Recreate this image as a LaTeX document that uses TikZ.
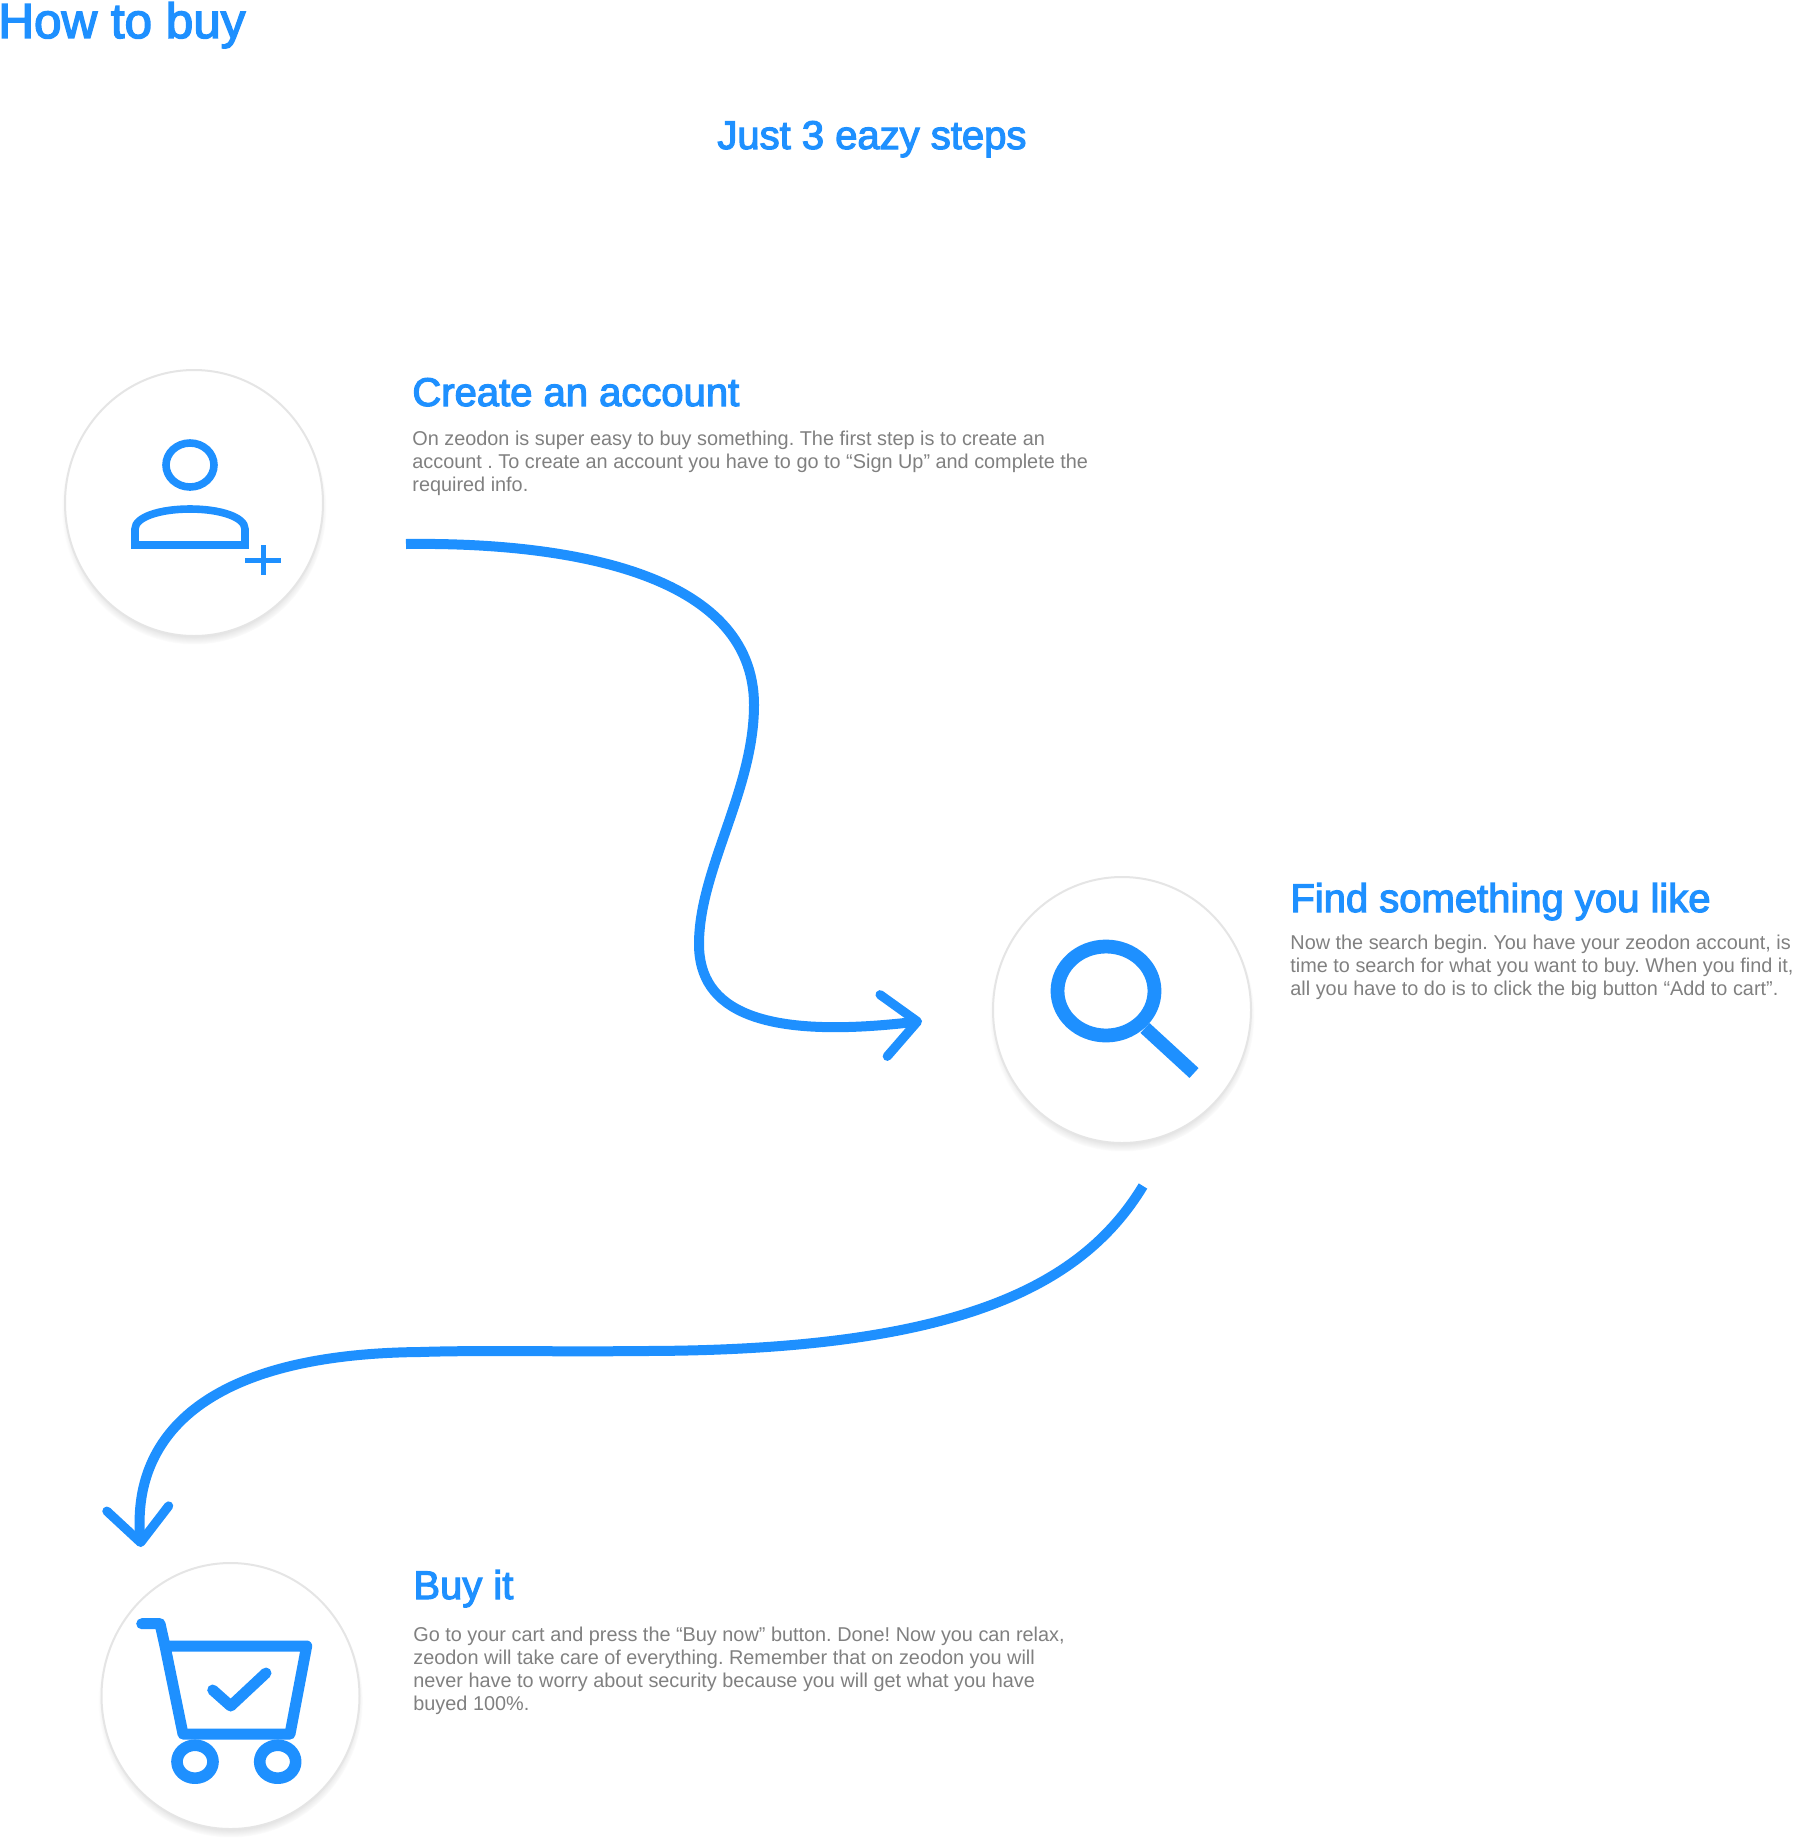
\documentclass[tikz,border=0pt]{standalone}
\usepackage{fontspec}
\setmainfont[FakeStretch=0.993]{Liberation Sans}
\newfontfamily\headfont[FakeBold=3]{Liberation Sans}
\usetikzlibrary{arrows.meta,shadows,shapes.geometric}
\definecolor{buycol}{RGB}{30,144,255}
\definecolor{bodycol}{RGB}{128,128,128}
\tikzset{
  % white disc behind an icon
  stepdisc/.style={ellipse, draw=black!10, line width=1pt, fill=white, minimum width=129pt, minimum height=133pt, inner sep=0pt,
                   circular drop shadow={shadow xshift=0pt, shadow yshift=-2.5pt, shadow scale=1.025, opacity=0.5}},
  % big page heading
  pagehead/.style={font=\headfont\fontsize{24.7pt}{30pt}\selectfont, text=buycol, inner sep=0pt, anchor=base west},
  % step heading
  stephead/.style={font=\headfont\fontsize{20pt}{24pt}\selectfont, text=buycol, inner sep=0pt, anchor=base west},
  % step description
  stepbody/.style={font=\fontsize{10pt}{11.5pt}\selectfont\frenchspacing, text=bodycol, inner sep=0pt, align=left, anchor=north west},
  % icon outline
  iconline/.style={draw=buycol, line width=#1, line join=round},
  iconline/.default={3.8pt},
  % curved step arrow
  curvearrow/.style={draw=buycol, line width=5pt,
                     -{Straight Barb[length=17pt, width=31pt, line width=4.6pt, round]}},
}
\begin{document}
\begin{tikzpicture}[x=0.5pt,y=-0.5pt]
  \useasboundingbox (0,0) rectangle (1795,1841);

  % titles
  \node[pagehead] (howto) at (-2,38) {How to buy};
  \node[stephead] (eazy) at (717,149) {Just 3 eazy steps};

  % discs
  \node[stepdisc] (acct) at (194,503) {};
  \node[stepdisc] (find) at (1122,1010) {};
  \node[stepdisc] (cart) at (230.5,1696) {};

  % account icon
  \draw[iconline] (190,465) ellipse [x radius=24, y radius=22];
  \draw[iconline, line join=miter] (135,545) -- (135,529) .. controls (135,517) and (160,509) .. (190,509)
    .. controls (220,509) and (245,517) .. (245,529) -- (245,545) -- cycle;
  \draw[iconline=2.5pt] (245,560) -- (281,560);
  \draw[iconline=2.5pt] (263,545) -- (263,575);

  % search icon
  \draw[iconline=6.9pt] (1106,991) ellipse [x radius=48.5, y radius=44.5];
  \draw[iconline=6.7pt] (1145,1028) -- (1194,1073);

  % cart icon
  \draw[iconline=5.5pt, line cap=round] (141.7,1623.7) -- (160,1623.7) -- (165,1646) -- (183,1734) -- (290,1734)
    -- (306.7,1646) -- (165,1646);
  \draw[iconline=5.5pt, line cap=round] (212.7,1690) -- (230.7,1706) -- (266,1673);
  \draw[iconline=5.8pt] (195,1761.7) ellipse [x radius=18, y radius=16.5];
  \draw[iconline=5.8pt] (277.7,1761.7) ellipse [x radius=18, y radius=16.5];

  % step 1
  \node[stephead] (accthead) at (412,406) {Create an account};
  \node[stepbody] (acctbody) at (412,431) {On zeodon is super easy to buy something. The first step is to create an\\
    account . To create an account you have to go to “Sign Up” and complete the\\
    required info.};

  % step 2
  \node[stephead] (findhead) at (1290,912) {Find something you like};
  \node[stepbody] (findbody) at (1290,935) {Now the search begin. You have your zeodon account, is\\
    time to search for what you want to buy. When you find it,\\
    all you have to do is to click the big button “Add to cart”.};

  % step 3
  \node[stephead] (carthead) at (413,1599) {Buy it};
  \node[stepbody] (cartbody) at (413,1627) {Go to your cart and press the “Buy now” button. Done! Now you can relax,\\
    zeodon will take care of everything. Remember that on zeodon you will\\
    never have to worry about security because you will get what you have\\
    buyed 100\%.};

  % connectors
  \coordinate (acctout) at (406,544);
  \coordinate (findin) at (922,1021);
  \coordinate (findout) at (1143,1186);
  \coordinate (cartin) at (141,1547);
  \draw[curvearrow] (acctout) .. controls (560,542) and (754,570) .. (754,705)
    .. controls (754,790) and (699,870) .. (699,944)
    .. controls (699,1010) and (760,1040) .. (findin);
  \draw[curvearrow] (findout) .. controls (1080,1290) and (950,1351) .. (640,1351)
    .. controls (560,1352) and (480,1350) .. (420,1352)
    .. controls (200,1354) and (132,1440) .. (cartin);
\end{tikzpicture}
\end{document}
